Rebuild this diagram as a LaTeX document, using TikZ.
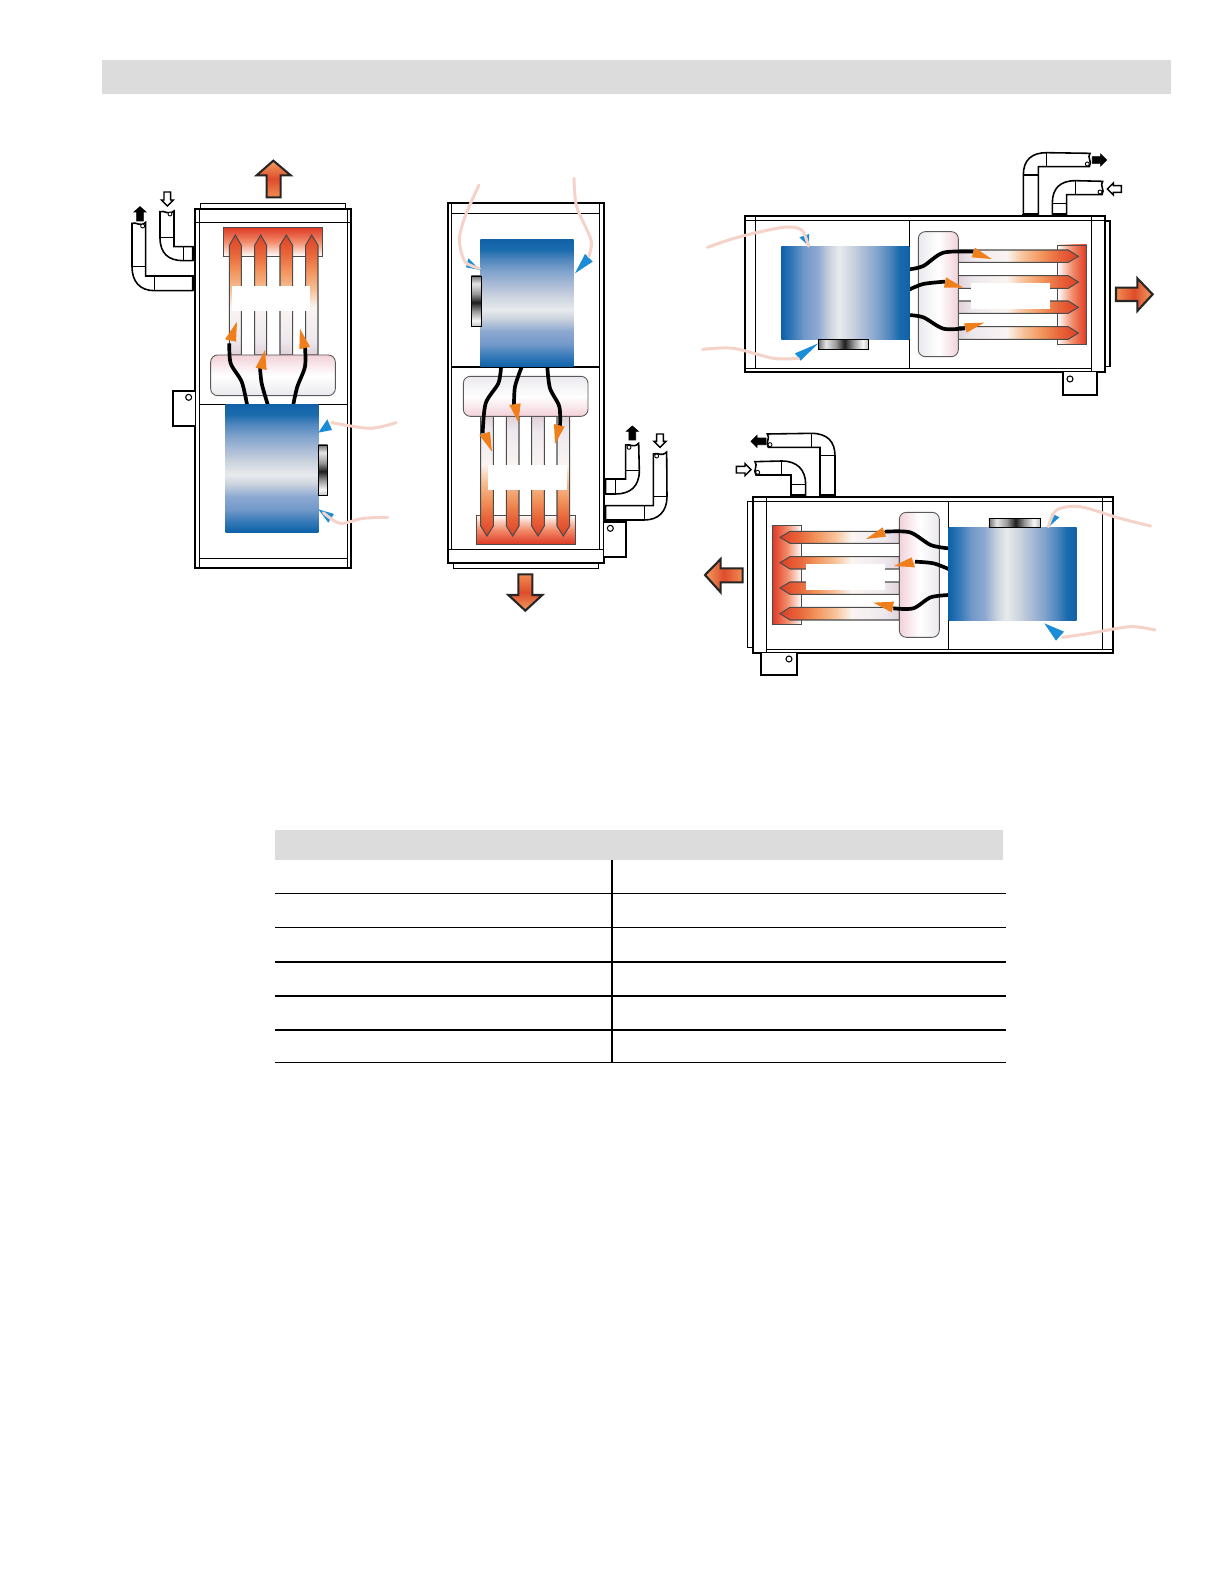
\documentclass[tikz,border=0pt]{standalone}
\usepackage{xcolor}

\pgfdeclareverticalshading{fanblue}{100bp}{
  rgb(0bp)=(.05,.38,.66); rgb(25bp)=(.05,.38,.66); rgb(29bp)=(.20,.47,.72); rgb(34bp)=(.45,.60,.79);
  rgb(39bp)=(.55,.66,.82); rgb(44bp)=(.80,.83,.87); rgb(47.5bp)=(.91,.92,.93); rgb(52.5bp)=(.80,.83,.87);
  rgb(57.5bp)=(.66,.73,.84); rgb(62.5bp)=(.50,.64,.80); rgb(67.5bp)=(.30,.52,.74); rgb(71bp)=(.10,.42,.68);
  rgb(75bp)=(.07,.38,.66); rgb(100bp)=(.07,.38,.66)}
\pgfdeclareverticalshading{motorgrey}{100bp}{
  rgb(0bp)=(.75,.75,.75); rgb(25bp)=(.75,.75,.75); rgb(31bp)=(.97,.97,.97); rgb(40bp)=(.60,.60,.60); rgb(49bp)=(.12,.12,.12);
  rgb(57.5bp)=(.60,.60,.60); rgb(67.5bp)=(.90,.90,.90); rgb(75bp)=(.45,.45,.45); rgb(100bp)=(.45,.45,.45)}
\pgfdeclareverticalshading{tubeheat}{100bp}{
  rgb(0bp)=(.88,.82,.85); rgb(25bp)=(.88,.82,.85); rgb(31bp)=(.93,.91,.93); rgb(45bp)=(.98,.96,.95);
  rgb(52bp)=(.97,.76,.60); rgb(60bp)=(.95,.58,.36); rgb(67bp)=(.91,.40,.23); rgb(75bp)=(.87,.25,.15); rgb(100bp)=(.87,.25,.15)}
\pgfdeclareverticalshading{headerheat}{100bp}{
  rgb(0bp)=(1,1,1); rgb(25bp)=(1,1,1); rgb(50bp)=(.95,.55,.42); rgb(75bp)=(.87,.22,.14); rgb(100bp)=(.87,.22,.14)}
\pgfdeclareverticalshading{plenumpink}{100bp}{
  rgb(0bp)=(.92,.91,.93); rgb(25bp)=(.92,.91,.93); rgb(50bp)=(1,1,1); rgb(75bp)=(.95,.82,.85); rgb(100bp)=(.95,.82,.85)}
\pgfdeclareverticalshading{bigheat}{100bp}{
  rgb(0bp)=(.94,.55,.32); rgb(25bp)=(.94,.55,.32); rgb(50bp)=(.87,.30,.17); rgb(75bp)=(.95,.62,.38); rgb(100bp)=(.95,.62,.38)}

\definecolor{bannergrey}{HTML}{DCDCDC}
\definecolor{airorange}{HTML}{EE7F1B}
\definecolor{inletblue}{HTML}{1B8DD6}
\definecolor{inletpink}{HTML}{F5D3C8}

\tikzset{
  outerline/.style={line width=1.2pt},
  thinline/.style={line width=.6pt},
  platemark/.style={line width=1.6pt},
  banner/.style={fill=bannergrey},
  fanbody/.style={shading=fanblue},
  motorbody/.style={shading=motorgrey,draw=black,line width=.5pt},
  tubebody/.style={shading=tubeheat,draw=black!70,line width=.6pt},
  headerbox/.style={shading=headerheat,draw=black!70,line width=.5pt},
  plenumbox/.style={shading=plenumpink,draw=black!65,line width=.5pt,rounded corners=.14cm},
  wire/.style={line width=2.1pt},
  airtip/.style={fill=airorange},
  inlettip/.style={fill=inletblue},
  inlet/.style={draw=inletpink,line width=1.7pt,line cap=round},
  bigarrow/.style={shading=bigheat,draw=black!85,line width=1.2pt,miter limit=4},
  pipe/.style={fill=white,draw=black,line width=.9pt},
  pipecut/.style={draw=black,line width=.9pt},
  pipeloop/.style={fill=white,draw=black,line width=.5pt},
  filledarrow/.style={fill=black,draw=black,line width=.4pt},
  hollowarrow/.style={fill=white,draw=black,line width=.8pt},
  tablethin/.style={line width=.8pt},
  tablethick/.style={line width=1.2pt}
}

\begin{document}
\begin{tikzpicture}[x=.02cm,y=-.02cm]
\pgfmathsetmacro{\myscale}{.02/3};

\path[fill=white,use as bounding box] (0,0) rectangle (1225,1585);

\fill[banner] (102,60) rectangle (1171,94);

\begin{scope}[shift={(110,140)},x=\myscale cm,y=-\myscale cm]
\draw[thinline] (272,206) -- (272,190) -- (707,190) -- (707,206);
\draw[outerline] (255,206) rectangle (723,1285);
\draw[thinline] (268,206) -- (268,1285);
\draw[thinline] (712,206) -- (712,1285);
\draw[thinline] (255,247) -- (723,247);
\draw[thinline] (268,1255) -- (712,1255);
\draw[thinline] (268,793) -- (712,793);
\draw[outerline,fill=white] (255,752) -- (188,752) -- (188,858) -- (255,858);
\draw[thinline] (236,772) circle (9);

\path[bigarrow,shading angle=0] (470,172) -- (470,106) -- (440,106) -- (490,62) -- (542,106) -- (512,106) -- (512,172) -- cycle;

\path[headerbox,shading angle=0] (340,262) rectangle (638,349);
\path[tubebody,shading angle=0] (358,645) -- (358,316) -- (376,285) -- (394,316) -- (394,645) -- cycle;
\path[tubebody,shading angle=0] (434,645) -- (434,316) -- (452,285) -- (470,316) -- (470,645) -- cycle;
\path[tubebody,shading angle=0] (510,645) -- (510,316) -- (529,285) -- (548,316) -- (548,645) -- cycle;
\path[tubebody,shading angle=0] (587,645) -- (587,316) -- (605,285) -- (624,316) -- (624,645) -- cycle;
\fill[white] (365,438) rectangle (600,513);
\path[plenumbox,shading angle=0] (302,645) rectangle (676,767);

\draw[wire] plot[smooth] coordinates {(411,793) (395,725) (362,670) (358,610)};
\draw[wire] plot[smooth] coordinates {(473,793) (455,730) (450,680)};
\draw[wire] plot[smooth] coordinates {(550,793) (562,740) (585,680) (585,620)};
\fill[airtip] (381,545) -- (345,598) -- (378,605) -- cycle;
\fill[airtip] (465,630) -- (437,683) -- (470,690) -- cycle;
\fill[airtip] (570,567) -- (568,628) -- (600,620) -- cycle;

\path[fanbody] (347,793) rectangle (625,1177);
\path[motorbody] (625,915) rectangle (653,1067);
\fill[inlettip] (625,878) -- (652,838) -- (666,870) -- cycle;
\fill[inlettip] (625,1108) -- (672,1122) -- (655,1148) -- cycle;
\draw[inlet] plot[smooth] coordinates {(858,848) (780,865) (665,848)};
\draw[inlet] plot[smooth] coordinates {(833,1132) (760,1135) (690,1150) (640,1118)};

\draw[pipe] (66,250) .. controls (80,245) and (90,262) .. (107,247) -- (107,408) -- (248,408) -- (248,452) -- (133,452) .. controls (90,452) and (66,425) .. (66,380) -- cycle;
\draw[pipecut] (66,380) -- (107,380);
\draw[pipecut] (133,408) -- (133,452);
\draw[pipeloop] (98,258) circle (6);
\draw[pipe] (150,215) .. controls (164,210) and (174,227) .. (192,213) -- (192,320) -- (248,320) -- (248,362) -- (220,362) .. controls (175,362) and (150,340) .. (150,293) -- cycle;
\draw[pipecut] (150,293) -- (192,293);
\draw[pipecut] (220,320) -- (220,362);
\draw[pipeloop] (180,222) circle (6);
\draw[platemark] (250,405) -- (250,454);
\draw[platemark] (250,317) -- (250,364);

\draw[filledarrow] (90,200) -- (108,216) -- (100,216) -- (100,243) -- (80,243) -- (80,216) -- (72,216) -- cycle;
\draw[hollowarrow] (172,198) -- (154,180) -- (162,180) -- (162,156) -- (182,156) -- (182,180) -- (190,180) -- cycle;
\end{scope}

\begin{scope}[shift={(430,160)},x=\myscale cm,y=-\myscale cm]
\draw[thinline] (70,1208) -- (70,1225) -- (506,1225) -- (506,1208);
\draw[outerline] (53,128) rectangle (522,1208);
\draw[thinline] (65,128) -- (65,1168);
\draw[thinline] (509,128) -- (509,1168);
\draw[thinline] (53,1168) -- (522,1168);
\draw[thinline] (65,160) -- (509,160);
\draw[thinline] (65,621) -- (509,621);
\draw[outerline,fill=white] (522,1085) -- (588,1085) -- (588,1190) -- (522,1190);
\draw[thinline] (541,1105) circle (9);

\path[bigarrow,shading angle=180] (265,1243) -- (265,1305) -- (235,1305) -- (286,1352) -- (337,1305) -- (307,1305) -- (307,1243) -- cycle;

\path[headerbox,shading angle=180] (139,1065) rectangle (437,1153);
\path[tubebody,shading angle=180] (152,769) -- (152,1098) -- (171,1128) -- (190,1098) -- (190,769) -- cycle;
\path[tubebody,shading angle=180] (229,769) -- (229,1098) -- (248,1128) -- (267,1098) -- (267,769) -- cycle;
\path[tubebody,shading angle=180] (305,769) -- (305,1098) -- (324,1128) -- (343,1098) -- (343,769) -- cycle;
\path[tubebody,shading angle=180] (381,769) -- (381,1098) -- (400,1128) -- (419,1098) -- (419,769) -- cycle;
\fill[white] (173,915) rectangle (410,990);
\path[plenumbox,shading angle=180] (100,649) rectangle (474,769);

\draw[wire] plot[smooth] coordinates {(213,621) (205,670) (167,730) (158,820)};
\draw[wire] plot[smooth] coordinates {(275,621) (255,680) (252,740)};
\draw[wire] plot[smooth] coordinates {(352,621) (360,685) (388,740) (390,800)};
\fill[airtip] (186,875) -- (148,825) -- (180,815) -- cycle;
\fill[airtip] (265,787) -- (238,735) -- (272,730) -- cycle;
\fill[airtip] (375,852) -- (372,792) -- (404,800) -- cycle;

\path[fanbody] (151,238) rectangle (431,621);
\path[motorbody] (124,348) rectangle (154,500);
\fill[inlettip] (150,330) -- (115,295) -- (108,322) -- cycle;
\fill[inlettip] (435,340) -- (465,282) -- (488,305) -- cycle;
\draw[inlet] plot[smooth] coordinates {(147,75) (105,170) (88,240) (105,305) (148,325)};
\draw[inlet] plot[smooth] coordinates {(432,55) (440,140) (483,240) (476,290)};

\draw[pipe] (587,855) .. controls (600,850) and (610,866) .. (626,850) -- (628,932) .. controls (628,980) and (600,1002) .. (557,1002) -- (527,1002) -- (527,957) -- (587,957) -- cycle;
\draw[pipecut] (587,932) -- (628,932);
\draw[pipecut] (557,957) -- (557,1002);
\draw[pipeloop] (597,862) circle (6);
\draw[pipe] (670,882) .. controls (684,876) and (694,892) .. (710,876) -- (711,1010) .. controls (711,1055) and (685,1080) .. (643,1080) -- (527,1080) -- (527,1037) -- (670,1037) -- cycle;
\draw[pipecut] (670,1010) -- (711,1010);
\draw[pipecut] (643,1037) -- (643,1080);
\draw[pipeloop] (680,888) circle (6);
\draw[platemark] (525,955) -- (525,1003);
\draw[platemark] (525,1035) -- (525,1083);

\draw[filledarrow] (607,798) -- (625,814) -- (617,814) -- (617,840) -- (597,840) -- (597,814) -- (589,814) -- cycle;
\draw[hollowarrow] (690,862) -- (672,844) -- (680,844) -- (680,822) -- (700,822) -- (700,844) -- (708,844) -- cycle;
\end{scope}

\begin{scope}[shift={(690,140)},x=\myscale cm,y=-\myscale cm]
\draw[thinline] (1245,243) -- (1260,243) -- (1260,680) -- (1245,680);
\draw[outerline] (165,228) rectangle (1245,696);
\draw[thinline] (165,241) -- (1245,241);
\draw[thinline] (165,686) -- (1205,686);
\draw[thinline] (196,228) -- (196,686);
\draw[thinline] (1205,228) -- (1205,696);
\draw[thinline] (658,241) -- (658,686);
\draw[outerline,fill=white] (1118,696) -- (1118,765) -- (1222,765) -- (1222,696);
\draw[thinline] (1140,717) circle (9);

\path[bigarrow,shading angle=-90] (1278,443) -- (1342,443) -- (1342,415) -- (1388,463) -- (1342,513) -- (1342,483) -- (1278,483) -- cycle;

\path[headerbox,shading angle=-90] (1102,315) rectangle (1190,613);
\path[tubebody,shading angle=-90] (805,330) -- (1135,330) -- (1165,349) -- (1135,367) -- (805,367) -- cycle;
\path[tubebody,shading angle=-90] (805,407) -- (1135,407) -- (1165,426) -- (1135,445) -- (805,445) -- cycle;
\path[tubebody,shading angle=-90] (805,483) -- (1135,483) -- (1165,502) -- (1135,520) -- (805,520) -- cycle;
\path[tubebody,shading angle=-90] (805,560) -- (1135,560) -- (1165,579) -- (1135,598) -- (805,598) -- cycle;
\fill[white] (843,430) rectangle (1080,507);
\path[plenumbox,shading angle=-90] (685,275) rectangle (805,650);

\draw[wire] plot[smooth] coordinates {(658,388) (700,378) (760,338) (850,335)};
\draw[wire] plot[smooth] coordinates {(655,450) (700,432) (765,425)};
\draw[wire] plot[smooth] coordinates {(655,525) (700,532) (760,566) (825,565)};
\fill[airtip] (905,357) -- (855,323) -- (845,352) -- cycle;
\fill[airtip] (820,443) -- (768,412) -- (762,443) -- cycle;
\fill[airtip] (883,548) -- (822,550) -- (830,578) -- cycle;

\path[fanbody,shading angle=-90] (274,320) rectangle (658,598);
\path[motorbody,shading angle=90] (385,598) rectangle (536,628);
\fill[inlettip] (358,320) -- (328,292) -- (357,282) -- cycle;
\fill[inlettip] (385,610) -- (315,640) -- (332,662) -- cycle;
\draw[inlet] plot[smooth] coordinates {(52,322) (150,290) (280,262) (335,270) (355,318)};
\draw[inlet] plot[smooth] coordinates {(38,628) (130,625) (250,655) (325,655)};

\draw[pipe] (1000,222) -- (1000,105) .. controls (1000,60) and (1025,38) .. (1070,38) -- (1200,40) .. controls (1190,52) and (1208,65) .. (1198,80) -- (1045,80) -- (1045,222) -- cycle;
\draw[pipecut] (1000,105) -- (1045,105);
\draw[pipecut] (1070,38) -- (1070,80);
\draw[pipeloop] (1192,72) circle (6);
\draw[pipe] (1087,222) -- (1087,190) .. controls (1087,145) and (1110,122) .. (1157,122) -- (1238,124) .. controls (1228,136) and (1246,150) .. (1236,164) -- (1130,164) -- (1130,222) -- cycle;
\draw[pipecut] (1087,190) -- (1130,190);
\draw[pipecut] (1157,122) -- (1157,164);
\draw[pipeloop] (1230,156) circle (6);
\draw[platemark] (997,225) -- (1047,225);
\draw[platemark] (1085,225) -- (1132,225);

\draw[filledarrow] (1250,60) -- (1232,42) -- (1232,50) -- (1207,50) -- (1207,70) -- (1232,70) -- (1232,78) -- cycle;
\draw[hollowarrow] (1252,147) -- (1270,129) -- (1270,137) -- (1294,137) -- (1294,157) -- (1270,157) -- (1270,165) -- cycle;
\end{scope}

\begin{scope}[shift={(690,420)},x=\myscale cm,y=-\myscale cm]
\draw[thinline] (188,245) -- (172,245) -- (172,683) -- (188,683);
\draw[outerline] (188,230) rectangle (1270,698);
\draw[thinline] (188,245) -- (1270,245);
\draw[thinline] (230,688) -- (1270,688);
\draw[thinline] (230,230) -- (230,698);
\draw[thinline] (1238,230) -- (1238,688);
\draw[thinline] (775,245) -- (775,688);
\draw[outerline,fill=white] (214,698) -- (214,765) -- (320,765) -- (320,698);
\draw[thinline] (297,717) circle (9);

\path[bigarrow,shading angle=90] (158,445) -- (92,445) -- (92,417) -- (45,465) -- (92,517) -- (92,487) -- (158,487) -- cycle;

\path[headerbox,shading angle=90] (247,316) rectangle (335,613);
\path[tubebody,shading angle=90] (628,334) -- (300,334) -- (270,352) -- (300,370) -- (628,370) -- cycle;
\path[tubebody,shading angle=90] (628,410) -- (300,410) -- (270,428) -- (300,447) -- (628,447) -- cycle;
\path[tubebody,shading angle=90] (628,486) -- (300,486) -- (270,504) -- (300,523) -- (628,523) -- cycle;
\path[tubebody,shading angle=90] (628,562) -- (300,562) -- (270,581) -- (300,600) -- (628,600) -- cycle;
\fill[white] (347,433) rectangle (585,510);
\path[plenumbox,shading angle=90] (628,277) rectangle (748,652);

\draw[wire] plot[smooth] coordinates {(775,385) (722,375) (660,337) (585,335)};
\draw[wire] plot[smooth] coordinates {(778,448) (730,430) (675,425)};
\draw[wire] plot[smooth] coordinates {(778,525) (722,532) (670,565) (610,565)};
\fill[airtip] (528,357) -- (578,322) -- (588,350) -- cycle;
\fill[airtip] (612,438) -- (665,412) -- (675,442) -- cycle;
\fill[airtip] (550,548) -- (612,545) -- (605,577) -- cycle;

\path[fanbody,shading angle=-90] (776,322) rectangle (1160,601);
\path[motorbody,shading angle=90] (897,294) rectangle (1050,322);
\fill[inlettip] (1075,322) -- (1085,280) -- (1108,292) -- cycle;
\fill[inlettip] (1063,610) -- (1098,662) -- (1122,635) -- cycle;
\draw[inlet] plot[smooth] coordinates {(1382,318) (1290,295) (1170,260) (1100,270) (1075,320)};
\draw[inlet] plot[smooth] coordinates {(1395,630) (1320,620) (1200,640) (1118,652)};

\draw[pipe] (435,225) -- (435,107) .. controls (435,65) and (412,40) .. (364,40) -- (232,42) .. controls (242,54) and (225,68) .. (235,82) -- (390,82) -- (390,225) -- cycle;
\draw[pipecut] (390,107) -- (435,107);
\draw[pipecut] (364,40) -- (364,82);
\draw[pipeloop] (240,74) circle (6);
\draw[pipe] (347,225) -- (347,193) .. controls (347,150) and (322,123) .. (275,123) -- (195,125) .. controls (205,137) and (188,151) .. (198,165) -- (303,165) -- (303,225) -- cycle;
\draw[pipecut] (303,193) -- (347,193);
\draw[pipecut] (275,123) -- (275,165);
\draw[pipeloop] (203,157) circle (6);
\draw[platemark] (300,227) -- (349,227);
\draw[platemark] (387,227) -- (437,227);

\draw[filledarrow] (183,64) -- (201,46) -- (201,54) -- (228,54) -- (228,74) -- (201,74) -- (201,82) -- cycle;
\draw[hollowarrow] (183,149) -- (165,131) -- (165,139) -- (139,139) -- (139,159) -- (165,159) -- (165,167) -- cycle;
\end{scope}

\fill[banner] (275,830) rectangle (1003,860);
\draw[tablethin] (275,893.5) -- (1005.5,893.5);
\draw[tablethin] (275,927.5) -- (1005.5,927.5);
\draw[tablethick] (275,962) -- (1005.5,962);
\draw[tablethick] (275,996) -- (1005.5,996);
\draw[tablethick] (275,1030) -- (1005.5,1030);
\draw[tablethin] (275,1062.5) -- (1005.5,1062.5);
\draw[tablethick] (612,860) -- (612,1062);
\end{tikzpicture}
\end{document}
